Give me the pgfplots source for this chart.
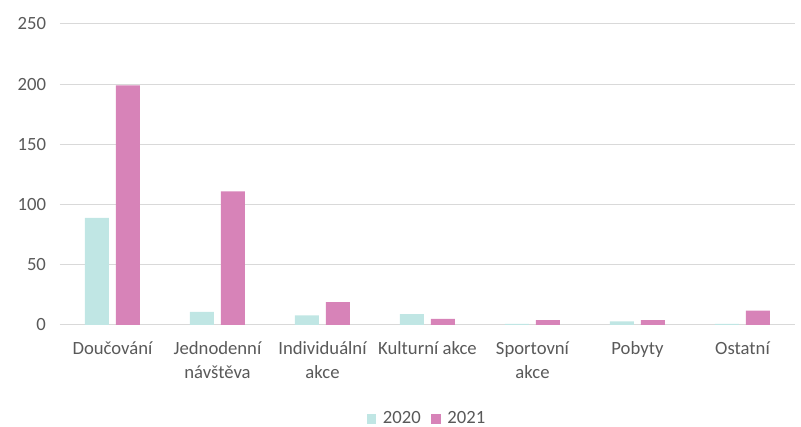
\documentclass[border=0pt]{standalone}
\usepackage{pgfplots}
\pgfplotsset{compat=1.18}
\usepackage{fontspec}
\setmainfont{Carlito}
\definecolor{c2020}{HTML}{C0E6E4}
\definecolor{c2021}{HTML}{D783B8}
\definecolor{txt}{HTML}{595959}
\definecolor{grid}{HTML}{D9D9D9}
\begin{document}
\begin{tikzpicture}
\useasboundingbox (-45pt,-76.5pt) rectangle (555.75pt,243.75pt);
\begin{axis}[
  at={(0,0)}, anchor=south west,
  scale only axis,
  width=551.25pt, height=225.75pt,
  xmin=-0.5, xmax=6.5, ymin=0, ymax=250,
  ybar=5.25pt, bar width=18pt,
  xtick={0,1,2,3,4,5,6},
  xticklabels={Doučování,{Jednodenní\\návštěva},{Individuální\\akce},Kulturní akce,{Sportovní\\akce},Pobyty,Ostatní},
  ytick={0,50,100,150,200,250},
  xmajorgrids=false, ymajorgrids=true,
  major grid style={draw=grid, line width=0.75pt},
  axis lines*=left,
  y axis line style={draw=none},
  x axis line style={draw=grid, line width=0.75pt, -},
  major tick length=0pt,
  tick label style={font=\fontsize{14}{15}\selectfont, text=txt},
  xticklabel style={align=center, yshift=-9pt, font=\fontsize{14}{18}\selectfont},
  yticklabel style={xshift=-7pt},
  /pgf/number format/assume math mode=true,
  legend style={at={(0.5,-0.312)}, anchor=center, draw=none, legend columns=-1, font=\fontsize{14}{15}\selectfont, text=txt, /tikz/every odd column/.append style={column sep=3pt}, /tikz/every even column/.append style={column sep=6pt}},
  legend image code/.code={\fill[#1] (0pt,-3.5pt) rectangle (7pt,3.5pt);},
]
\addplot[fill=c2020, draw=none] coordinates {(0,89) (1,11) (2,8) (3,9) (4,1) (5,3) (6,1)};
\addplot[fill=c2021, draw=none] coordinates {(0,199) (1,111) (2,19) (3,5) (4,4) (5,4) (6,12)};
\legend{2020,2021}
\end{axis}
\end{tikzpicture}
\end{document}
